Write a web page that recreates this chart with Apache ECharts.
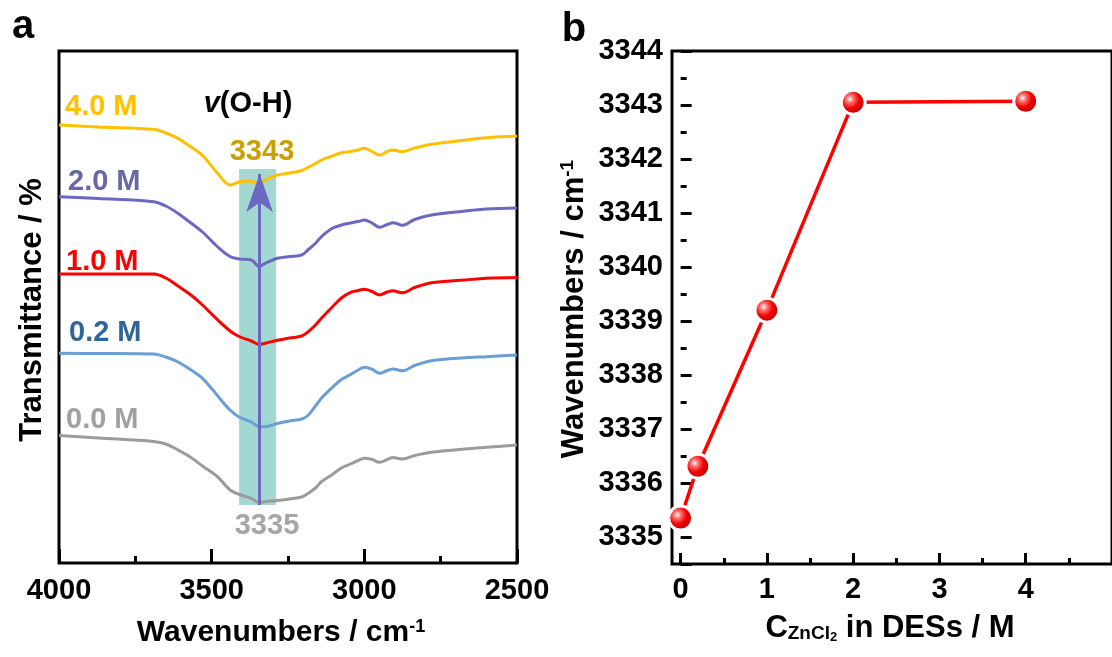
<!DOCTYPE html>
<html>
<head>
<meta charset="utf-8">
<script src="https://cdn.jsdelivr.net/npm/echarts@6/dist/echarts.min.js"></script>
<style>
  html, body { margin: 0; padding: 0; background: #fff; }
  #chart { width: 1112px; height: 657px; }
</style>
</head>
<body>
<div id="chart"></div>
<script>
// ---------- Panel a: FTIR spectra (arbitrary transmittance units) ----------
const wavenumbers = [4000, 3870, 3690, 3650, 3610, 3570, 3530, 3480, 3440, 3410, 3370, 3345, 3325, 3285, 3245, 3205, 3185, 3160, 3140, 3105, 3075, 3045, 3020, 3000, 2975, 2950, 2925, 2905, 2890, 2875, 2835, 2780, 2670, 2600, 2500];
const trans00 = [127.5, 125, 121.5, 119, 113, 106, 97, 86, 73, 68.5, 64.7, 60.5, 61.3, 62.5, 64, 66, 69.5, 75, 81.5, 88.5, 95, 99, 102.5, 104.7, 103.6, 100.7, 103.5, 105.5, 104.5, 104, 107.5, 110.7, 114, 115.7, 118];
const trans02 = [209.7, 209.5, 209, 206, 201, 193.5, 184.7, 167, 153, 146, 141, 136.5, 136.3, 139.5, 142, 144, 147.5, 157, 165, 175.5, 183.5, 188.5, 193, 195.7, 193.8, 189.7, 192.5, 194, 193, 192.3, 197.5, 202.3, 205.3, 206.3, 208];
const trans10 = [289, 289, 289, 285, 277, 268.5, 258, 243, 232, 226.5, 222, 218.5, 219.7, 222.7, 225, 227, 231, 238, 245, 256, 265, 270.7, 272.5, 273.7, 271.5, 268, 271, 272.3, 271, 270.3, 275.5, 280.3, 283, 284.7, 285.5];
const trans20 = [366.3, 364.5, 361.3, 357, 349.5, 340.5, 331, 316, 306.5, 304, 303, 296.5, 299.7, 304.7, 306.5, 308, 313, 319.7, 326.5, 334.7, 338, 340, 341.5, 343, 340, 335.7, 338.5, 340.3, 339, 337.7, 343.5, 348, 352, 354, 355];
const trans40 = [438, 436, 433.7, 430, 424.5, 416.5, 407.5, 389.5, 378, 381, 382, 377, 383, 388, 390, 392.5, 395.5, 399.5, 403, 407, 410.3, 411.5, 413, 414.7, 411.5, 408, 411.5, 413, 412, 411.3, 415, 418.7, 423, 425.3, 427];
const spectraLabels = ['0.0 M', '0.2 M', '1.0 M', '2.0 M', '4.0 M'];
const xTicksA = [2500, 3000, 3500, 4000];
const xMinorA = [2750, 3250, 3750];
const bandRange = [3410, 3289];       // highlighted O-H band (cm-1)
const bandLevels = [58, 394];         // vertical extent of highlight (same units as spectra)
const arrowWavenumber = 3343;
const arrowLevels = [58, 389];
const peakLabelLow = '3335';
const peakLabelHigh = '3343';

// ---------- Panel b: peak position vs concentration ----------
const concentrations = [0, 0.2, 1, 2, 4];
const peakWavenumbers = [3335.35, 3336.31, 3339.2, 3343.05, 3343.07];
const xTicksB = [0, 1, 2, 3, 4];
const xMinorB = [0.5, 1.5, 2.5, 3.5, 4.5];
const yTicksB = [3335, 3336, 3337, 3338, 3339, 3340, 3341, 3342, 3343, 3344];

const FONT = '"Liberation Sans", Arial, sans-serif';
const LBL = 29;
const zip = (xs, ys) => xs.map((x, i) => [x, ys[i]]);

const lineColors = ['#9b9b9b', '#6a9fd4', '#ff0000', '#6b68c2', '#ffc000'];
const labelColors = ['#a0a0a0', '#2f6699', '#ff0000', '#6868a8', '#ffc000'];
const spectra = [trans00, trans02, trans10, trans20, trans40];

const chart = echarts.init(document.getElementById('chart'), null, { renderer: 'canvas' });

const tickLabel = { fontFamily: FONT, fontWeight: 'bold', fontSize: LBL, color: '#000', formatter: v => String(v) };
const tickStyle = { color: '#000', width: 3 };

const labelAxis = (extra, values, margin) => Object.assign({
  type: 'value', axisLine: { show: false }, axisTick: { show: false }, splitLine: { show: false },
  axisLabel: Object.assign({ margin, customValues: values }, tickLabel)
}, extra);
const tickAxis = (extra, values, len) => Object.assign({
  type: 'value', axisLine: { show: false }, splitLine: { show: false }, axisLabel: { show: false },
  axisTick: { show: true, inside: true, length: len, customValues: values, lineStyle: tickStyle }
}, extra);

const series = spectra.map((vals, i) => ({
  type: 'line',
  name: spectraLabels[i],
  xAxisIndex: 0, yAxisIndex: 0,
  data: zip(wavenumbers, vals),
  smooth: 0.35,
  symbol: 'none',
  lineStyle: { color: lineColors[i], width: 3 },
  z: 2,
  silent: true
}));

series.push({
  type: 'line', xAxisIndex: 0, yAxisIndex: 0, data: [], z: 3, silent: true,
  markArea: {
    silent: true,
    itemStyle: { color: 'rgba(72,175,163,0.5)' },
    data: [[{ coord: [bandRange[0], bandLevels[1]] }, { coord: [bandRange[1], bandLevels[0]] }]]
  }
});

series.push({
  type: 'line', xAxisIndex: 0, yAxisIndex: 0, data: [], z: 4, silent: true,
  markLine: {
    silent: true,
    symbol: ['none', 'arrow'],
    symbolSize: [20, 38],
    label: { show: false },
    lineStyle: { color: '#6b68c2', width: 3, type: 'solid' },
    data: [[{ coord: [arrowWavenumber, arrowLevels[0]] }, { coord: [arrowWavenumber, arrowLevels[1]] }]]
  }
});

series.push({
  type: 'line',
  xAxisIndex: 3, yAxisIndex: 2,
  data: zip(concentrations, peakWavenumbers),
  lineStyle: { color: '#ff0000', width: 3.5 },
  symbol: 'circle',
  symbolSize: 24,
  itemStyle: {
    color: {
      type: 'radial', x: 0.38, y: 0.38, r: 0.62,
      colorStops: [
        { offset: 0, color: '#ffffff' },
        { offset: 0.22, color: '#ff7070' },
        { offset: 0.55, color: '#f20000' },
        { offset: 1, color: '#b00000' }
      ]
    },
    borderColor: '#ffffff',
    borderWidth: 3
  },
  z: 3,
  silent: true
});

const txt = (x, y, text, size, color, align) => ({
  type: 'text', x, y, z: 10, silent: true,
  style: { text, fontFamily: FONT, fontWeight: 'bold', fontSize: size, fill: color, align: align || 'left', verticalAlign: 'middle' }
});

const supRich = (size) => ({
  n: { fontFamily: FONT, fontWeight: 'bold', fontSize: size, fill: '#000', color: '#000' },
  sup: { fontFamily: FONT, fontWeight: 'bold', fontSize: Math.round(size * 0.6), fill: '#000', color: '#000', verticalAlign: 'top' }
});

const xA = { gridIndex: 0, min: 2500, max: 4000, inverse: true, position: 'bottom' };
const xB = { gridIndex: 1, min: -0.1, max: 5, position: 'bottom' };
const yTop = yTicksB[yTicksB.length - 1];

const option = {
  animation: false,
  backgroundColor: '#fff',
  grid: [
    { left: 59, top: 51, width: 458, height: 512, show: true, borderColor: '#000', borderWidth: 3, backgroundColor: 'transparent' },
    { left: 672, top: 51, width: 500, height: 513, show: true, borderColor: '#000', borderWidth: 3, backgroundColor: 'transparent' }
  ],
  xAxis: [
    labelAxis(xA, xTicksA, 13),
    tickAxis(xA, xTicksA, 14),
    tickAxis(xA, xMinorA, 7),
    labelAxis(xB, xTicksB, 11),
    tickAxis(xB, xTicksB, 11),
    tickAxis(xB, xMinorB, 6)
  ],
  yAxis: [
    { gridIndex: 0, type: 'value', min: 0, max: 512, show: false },
    // visible y axis of panel b: counts down from the top value (3344) so ticks start at a whole number
    {
      gridIndex: 1, type: 'value', position: 'left', inverse: true, min: 0, max: 9.5, interval: 1,
      axisLine: { show: false }, splitLine: { show: false }, minorSplitLine: { show: false },
      axisTick: { show: true, inside: true, length: 11, lineStyle: tickStyle },
      minorTick: { show: true, splitNumber: 2, length: 6, lineStyle: tickStyle },
      axisLabel: Object.assign({}, tickLabel, {
        margin: 9,
        formatter: v => (Math.abs(v - Math.round(v)) < 1e-6 ? String(yTop - Math.round(v)) : '')
      })
    },
    // data axis of panel b (hidden)
    { gridIndex: 1, type: 'value', min: 3334.5, max: 3344, show: false }
  ],
  series,
  graphic: [
    txt(23, 27, 'a', 40, '#000', 'center'),
    txt(574, 30, 'b', 40, '#000', 'center'),
    txt(65, 107, spectraLabels[4], LBL, labelColors[4]),
    txt(68, 182, spectraLabels[3], LBL, labelColors[3]),
    txt(66, 262, spectraLabels[2], LBL, labelColors[2]),
    txt(69, 333, spectraLabels[1], LBL, labelColors[1]),
    txt(66, 420, spectraLabels[0], LBL, labelColors[0]),
    {
      type: 'text', x: 248, y: 104, z: 10, silent: true,
      style: {
        text: '{i|v}{n|(O-H)}', align: 'center', verticalAlign: 'middle',
        rich: {
          i: { fontFamily: FONT, fontWeight: 'bold', fontStyle: 'italic', fontSize: LBL, fill: '#000', color: '#000' },
          n: { fontFamily: FONT, fontWeight: 'bold', fontSize: LBL, fill: '#000', color: '#000' }
        }
      }
    },
    txt(262, 152, peakLabelHigh, LBL, '#c9a000', 'center'),
    txt(267, 526, peakLabelLow, LBL, '#a6a6a6', 'center'),
    {
      type: 'text', x: 32, y: 310, rotation: Math.PI / 2, z: 10, silent: true,
      style: { text: 'Transmittance / %', fontFamily: FONT, fontWeight: 'bold', fontSize: 31, fill: '#000', align: 'center', verticalAlign: 'middle' }
    },
    {
      type: 'text', x: 281, y: 633, z: 10, silent: true,
      style: { text: '{n|Wavenumbers / cm}{sup|-1}', align: 'center', verticalAlign: 'middle', rich: supRich(30) }
    },
    {
      type: 'text', x: 574, y: 309, rotation: Math.PI / 2, z: 10, silent: true,
      style: { text: '{n|Wavenumbers / cm}{sup|-1}', align: 'center', verticalAlign: 'middle', rich: supRich(31) }
    },
    {
      type: 'text', x: 890, y: 628, z: 10, silent: true,
      style: {
        text: '{n|C}{sub|ZnCl}{sub2|2}{n| in DESs / M}', align: 'center', verticalAlign: 'middle',
        rich: {
          n: { fontFamily: FONT, fontWeight: 'bold', fontSize: 31, fill: '#000', color: '#000' },
          sub: { fontFamily: FONT, fontWeight: 'bold', fontSize: 19, fill: '#000', color: '#000', verticalAlign: 'bottom' },
          sub2: { fontFamily: FONT, fontWeight: 'bold', fontSize: 13, fill: '#000', color: '#000', verticalAlign: 'bottom' }
        }
      }
    }
  ]
};

chart.setOption(option);
</script>
</body>
</html>
